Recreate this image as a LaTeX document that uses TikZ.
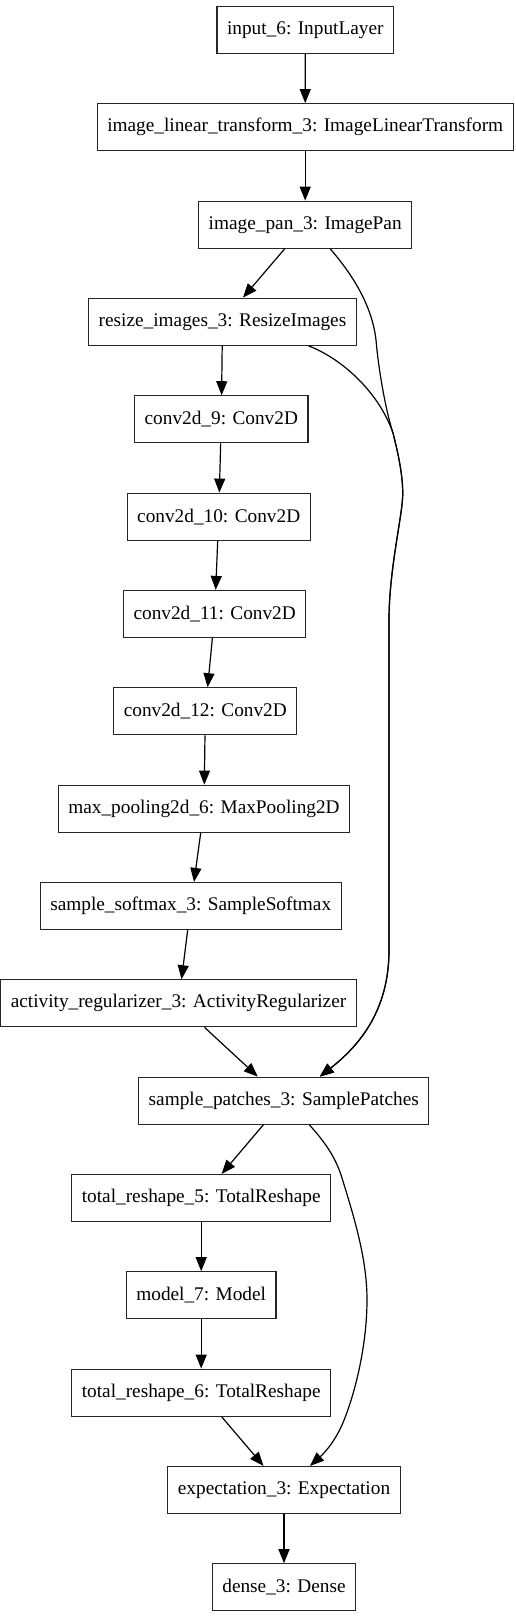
\documentclass[tikz,border=0pt]{standalone}
\usepackage{fontspec}
\setmainfont{Liberation Serif}
\usetikzlibrary{arrows.meta,calc}

\begin{document}
\begin{tikzpicture}[x=1pt, y=-1pt,
      layer/.style={draw=black!85, line width=1.2pt, rectangle, minimum height=47pt,
                    inner xsep=10pt, font=\fontsize{19.3}{23}\selectfont},
      edge/.style={line width=1.2pt, -{Triangle[length=14pt, width=11pt]}}]
    \useasboundingbox (0,0) rectangle (515,1617);
    \node[layer] (inp)      at (305.3,30)    {input\_6: InputLayer};
    \node[layer] (ilt)      at (305.2,127.2) {image\_linear\_transform\_3: ImageLinearTransform};
    \node[layer] (pan)      at (305.2,224.7) {image\_pan\_3: ImagePan};
    \node[layer] (resize)   at (222.5,321.7) {resize\_images\_3: ResizeImages};
    \node[layer] (conv9)    at (221.3,419.3) {conv2d\_9: Conv2D};
    \node[layer] (conv10)   at (218.7,516.7) {conv2d\_10: Conv2D};
    \node[layer] (conv11)   at (214.7,614)   {conv2d\_11: Conv2D};
    \node[layer] (conv12)   at (205.3,711.3) {conv2d\_12: Conv2D};
    \node[layer] (maxpool)  at (204,808.7)   {max\_pooling2d\_6: MaxPooling2D};
    \node[layer] (softmax)  at (190.7,906)   {sample\_softmax\_3: SampleSoftmax};
    \node[layer] (actreg)   at (178.5,1003.3) {activity\_regularizer\_3: ActivityRegularizer};
    \node[layer] (patches)  at (283.8,1100.7) {sample\_patches\_3: SamplePatches};
    \node[layer] (reshape5) at (201.2,1198)  {total\_reshape\_5: TotalReshape};
    \node[layer] (model)    at (201.2,1295.3) {model\_7: Model};
    \node[layer] (reshape6) at (201.2,1392.7) {total\_reshape\_6: TotalReshape};
    \node[layer] (expect)   at (284,1490)    {expectation\_3: Expectation};
    \node[layer] (dense)    at (284,1587.3)  {dense\_3: Dense};

    % main chain
    \draw[edge] (inp) -- (ilt);
    \draw[edge] (ilt) -- (pan);
    \draw[edge] (pan) -- (resize);
    \draw[edge] (resize) -- (conv9);
    \draw[edge] (conv9) -- (conv10);
    \draw[edge] (conv10) -- (conv11);
    \draw[edge] (conv11) -- (conv12);
    \draw[edge] (conv12) -- (maxpool);
    \draw[edge] (maxpool) -- (softmax);
    \draw[edge] (softmax) -- (actreg);
    \draw[edge] (actreg) -- (patches);
    \draw[edge] (patches) -- (reshape5);
    \draw[edge] (reshape5) -- (model);
    \draw[edge] (model) -- (reshape6);
    \draw[edge] (reshape6) -- (expect);
    \draw[edge] (expect) -- (dense);

    % long edges on the right
    \coordinate (merge) at (393,433);
    \draw[edge] ($(pan.south)+(25,0)$) .. controls (352,274) and (372,305) .. (376,340)
      .. controls (379,375) and (387,415) .. (merge)
      .. controls (398,453) and (403,475) .. (402.7,495)
      .. controls (402.5,515) and (389,570) .. (389,620) -- (389,950)
      .. controls (389,1010) and (360,1045) .. ($(patches.north)+(36,0)$);
    \draw[edge] ($(resize.south)+(86,0)$) .. controls (345,360) and (380,395) .. (merge)
      .. controls (398,453) and (403,475) .. (402.7,495)
      .. controls (402.5,515) and (389,570) .. (389,620) -- (389,950)
      .. controls (389,1010) and (360,1045) .. ($(patches.north)+(36,0)$);
    \draw[edge] ($(patches.south)+(25.5,0)$) .. controls (325,1142) and (336,1158) .. (342,1178)
      .. controls (355,1220) and (367,1260) .. (367,1300)
      .. controls (367,1345) and (355,1395) .. (342,1425)
      .. controls (333,1445) and (322,1455) .. ($(expect.north)+(26,0)$);
  \end{tikzpicture}
\end{document}
